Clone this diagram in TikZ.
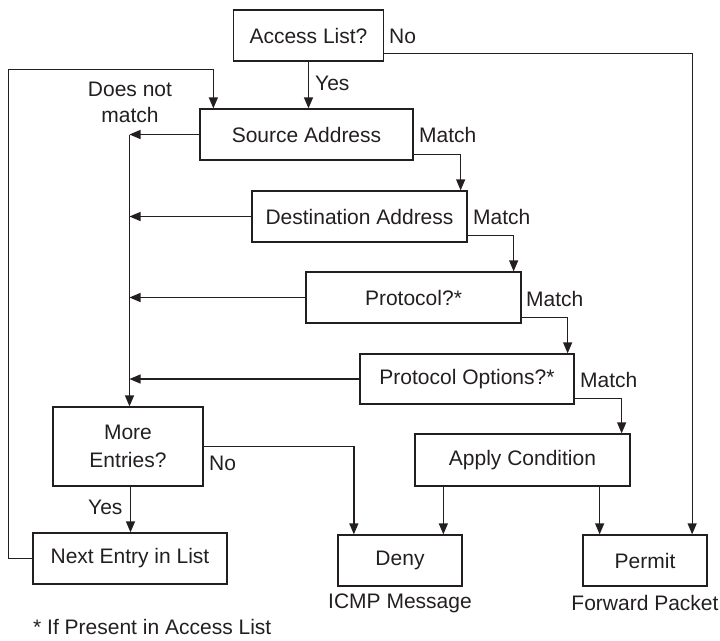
\documentclass[tikz,border=0pt]{standalone}
\usepackage{fontspec}
\setmainfont{Liberation Sans}
\usetikzlibrary{arrows.meta,calc}
\definecolor{ink}{HTML}{231F20}
\begin{document}
\begin{tikzpicture}[x=1pt,y=-1pt,
  every node/.style={text=ink,font=\fontsize{21}{28}\selectfont},
  box/.style={draw=ink,line width=1.3pt,inner sep=0pt,align=center},
  lbl/.style={inner sep=0pt},
  conn/.style={draw=ink,line width=1.3pt},
  arr/.style={conn,-{Triangle[length=11pt,width=9pt]}}]
\useasboundingbox (0,0) rectangle (720,640);
% boxes
\node[box,minimum width=150pt,minimum height=51pt] (Access) at (308.5,35.5) {Access List?};
\node[box,minimum width=213pt,minimum height=51pt] (Source) at (306.5,134.5) {Source Address};
\node[box,minimum width=215pt,minimum height=51pt] (Dest) at (359.5,216.5) {Destination Address};
\node[box,minimum width=215pt,minimum height=51pt] (Proto) at (413.5,297.5) {Protocol?*};
\node[box,minimum width=214pt,minimum height=50pt] (Opt) at (467,379) {Protocol Options?*};
\node[box,minimum width=215pt,minimum height=52pt] (Apply) at (522.5,460) {Apply Condition};
\node[box,minimum width=150pt,minimum height=79pt] (More) at (128,446.5) {More\\Entries?};
\node[box,minimum width=194pt,minimum height=51pt] (Next) at (130,558.5) {Next Entry in List};
\node[box,minimum width=124pt,minimum height=51pt] (Deny) at (400,560.5) {Deny};
\node[box,minimum width=124pt,minimum height=51pt] (Permit) at (645,560.5) {Permit};
% labels
\node[lbl,anchor=west] (lNo1) at (389,36) {No};
\node[lbl,anchor=west] (lYes1) at (315,83) {Yes};
\node[lbl,anchor=west] (lM1) at (419,135) {Match};
\node[lbl,anchor=west] (lM2) at (473,217) {Match};
\node[lbl,anchor=west] (lM3) at (526,299) {Match};
\node[lbl,anchor=west] (lM4) at (580,380) {Match};
\node[lbl,anchor=west] (lNo2) at (209,463) {No};
\node[lbl,anchor=west] (lYes2) at (88,507) {Yes};
\node[lbl,align=center,font=\fontsize{21}{26}\selectfont] (lDnm) at (130,102) {Does not\\match};
\node[lbl] (lIcmp) at (400,603) {ICMP Message};
\node[lbl] (lFwd) at (645,603) {Forward Packet};
\node[lbl,anchor=west] (lFoot) at (33,627) {* If Present in Access List};
% helper coordinates
\coordinate (noStart) at ($(Access.south east)+(0,-8)$);
\coordinate (permitIn1) at ($(Permit.north east)+(-15.5,0)$);
\coordinate (denyIn1) at ($(Deny.north west)+(16.5,0)$);
\coordinate (applyOutL) at ($(Apply.south west)+(29,0)$);
\coordinate (applyOutR) at ($(Apply.south east)+(-31,0)$);
\coordinate (moreOut) at ($(More.south)+(2.5,0)$);
\coordinate (spineTop) at ($(More.north)+(1.5,-271)$);
\coordinate (loopX) at ($(Next.west)+(-24,0)$);
\coordinate (loopTop) at ($(Source.north west)+(14,-39)$);
\coordinate (loopIn) at ($(Source.north west)+(14,0)$);
% connectors
\draw[arr] (noStart) -| (permitIn1);
\draw[arr] (Access.south) -- (Access.south |- Source.north);
\draw[arr] ($(Source.south east)+(0,-6)$) -| ($(Dest.north east)+(-7,0)$);
\draw[arr] ($(Dest.south east)+(0,-7)$) -| ($(Proto.north east)+(-8,0)$);
\draw[arr] ($(Proto.south east)+(0,-6)$) -| ($(Opt.north east)+(-7,0)$);
\draw[arr] ($(Opt.south east)+(0,-6)$) -| ($(Apply.north east)+(-9,0)$);
\draw[arr] (spineTop) -- (spineTop |- More.north);
\draw[arr] (Source.west) -- (Source.west -| spineTop);
\draw[arr] (Dest.west) -- (Dest.west -| spineTop);
\draw[arr] (Proto.west) -- (Proto.west -| spineTop);
\draw[arr] (Opt.west) -- (Opt.west -| spineTop);
\draw[arr] (More.east) -| (denyIn1);
\draw[arr] (applyOutL) -- (applyOutL |- Deny.north);
\draw[arr] (applyOutR) -- (applyOutR |- Permit.north);
\draw[arr] (moreOut) -- (moreOut |- Next.north);
\draw[arr] (Next.west) -- (loopX) |- (loopTop) -- (loopIn);
\end{tikzpicture}
\end{document}
